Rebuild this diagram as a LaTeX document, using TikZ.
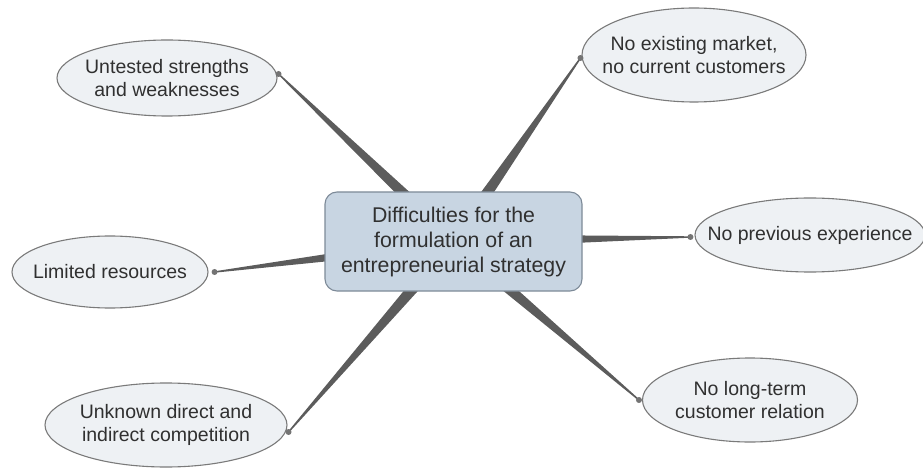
\documentclass[tikz,border=0pt]{standalone}
\usepackage{fontspec}
\setmainfont{Liberation Sans}
\usetikzlibrary{shapes.geometric,calc,backgrounds}

\definecolor{spokegray}{HTML}{5C5C5C}
\definecolor{ovalfill}{HTML}{EEF1F4}
\definecolor{ovalline}{HTML}{7A7A7A}
\definecolor{hubfill}{HTML}{C8D5E2}
\definecolor{hubline}{HTML}{7D8A98}
\definecolor{txt}{HTML}{303030}

\tikzset{
  % negative inner sep lets the minimum size alone fix the ellipse
  oval/.style={ellipse, draw=ovalline, fill=ovalfill, line width=1.1pt,
    inner xsep=-50pt, inner ysep=-25pt, align=center, text=txt,
    font=\fontsize{19.5}{22.5}\selectfont},
  hubbox/.style={rectangle, rounded corners=12pt, draw=hubline, fill=hubfill,
    line width=1.1pt, inner sep=0pt, align=center, text=txt,
    minimum width=257pt, minimum height=99pt,
    font=\fontsize{21.3}{25}\selectfont},
  knob/.style={circle, fill=spokegray!85, inner sep=0pt, minimum size=6pt},
  spokefill/.style={fill=spokegray},
}

% tapered spoke from the hub centre out to a knob
\newcommand\taperspoke[2]{%
  \fill[spokefill] ($(#1)!7pt!90:(#2)$) -- ($(#2)!0.7pt!-90:(#1)$)
    -- ($(#2)!0.7pt!90:(#1)$) -- ($(#1)!7pt!-90:(#2)$) -- cycle;}

\begin{document}
\begin{tikzpicture}[x=1pt,y=-1pt]
\useasboundingbox (0,0) rectangle (923,470);

\node[hubbox] (hub) at (453.5,241.5)
  {Difficulties for the\\formulation of an\\entrepreneurial strategy};

\node[oval, minimum width=220pt, minimum height=76pt] (untested) at (167,78)
  {Untested strengths\\and weaknesses};
\node[oval, minimum width=224pt, minimum height=94pt] (market) at (694,55)
  {No existing market,\\no current customers};
\node[oval, minimum width=230pt, minimum height=74pt] (previous) at (810,235)
  {No previous experience};
\node[oval, minimum width=196pt, minimum height=72pt] (limited) at (110,272)
  {Limited resources};
\node[oval, minimum width=242pt, minimum height=84pt] (unknown) at (166,425)
  {Unknown direct and\\indirect competition};
\node[oval, minimum width=215pt, minimum height=84pt] (longterm) at (750,400)
  {No long-term\\customer relation};

\coordinate (k1) at ($(untested.east)+(1,-4)$);
\coordinate (k2) at ($(market.west)+(-1,3)$);
\coordinate (k3) at ($(previous.west)+(-4,2)$);
\coordinate (k4) at ($(limited.east)+(6,0)$);
\coordinate (k5) at ($(unknown.east)+(1,7)$);
\coordinate (k6) at ($(longterm.west)+(-3,0)$);

\begin{scope}[on background layer]
  \taperspoke{hub.center}{k1}
  \taperspoke{hub.center}{k2}
  \taperspoke{hub.center}{k3}
  \taperspoke{hub.center}{k4}
  \taperspoke{hub.center}{k5}
  \taperspoke{hub.center}{k6}
\end{scope}

\foreach \k in {k1,k2,k3,k4,k5,k6}
  \node[knob] (dot-\k) at (\k) {};
\end{tikzpicture}
\end{document}
